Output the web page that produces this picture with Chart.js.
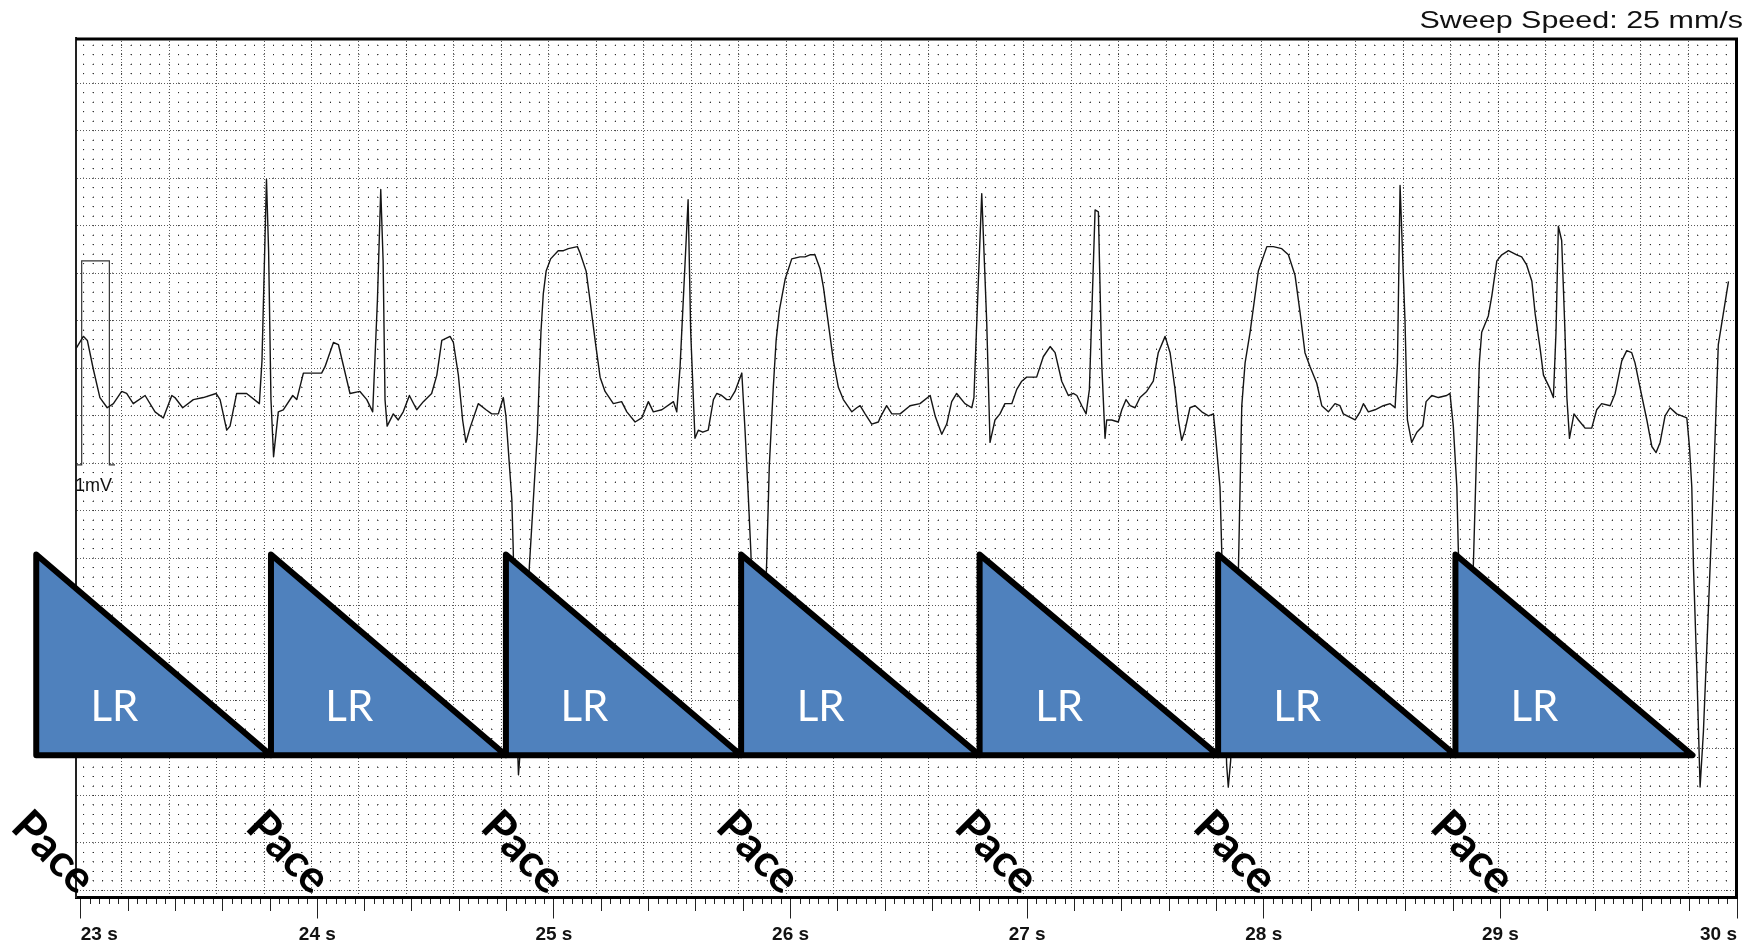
<!DOCTYPE html>
<html>
<head>
<meta charset="utf-8">
<script src="https://cdn.jsdelivr.net/npm/chart.js@4/dist/chart.umd.min.js"></script>
<style>
  html, body { margin: 0; padding: 0; background: #fff; }
</style>
</head>
<body>
<canvas id="ecg" width="1760" height="947"></canvas>
<script>
/* ---------------- DATA ---------------- */
// ECG trace: time in seconds, amplitude in mV
const ecgTime = [
  22.980, 23.011, 23.028, 23.053, 23.081, 23.112, 23.138, 23.173, 23.194, 23.222,
  23.272, 23.314, 23.349, 23.385, 23.398, 23.431, 23.476, 23.518, 23.572, 23.589,
  23.617, 23.631, 23.659, 23.701, 23.755, 23.766, 23.785, 23.794, 23.804, 23.815,
  23.835, 23.856, 23.896, 23.913, 23.941, 23.962, 24.018, 24.032, 24.068, 24.089,
  24.138, 24.180, 24.209, 24.234, 24.254, 24.268, 24.278, 24.286, 24.295, 24.321,
  24.342, 24.363, 24.389, 24.420, 24.448, 24.483, 24.505, 24.526, 24.561, 24.575,
  24.596, 24.614, 24.628, 24.645, 24.680, 24.713, 24.737, 24.765, 24.786, 24.797,
  24.822, 24.828, 24.840, 24.850, 24.861, 24.896, 24.913, 24.930, 24.945, 24.955,
  24.967, 24.986, 25.018, 25.040, 25.061, 25.099, 25.110, 25.136, 25.152, 25.174,
  25.195, 25.216, 25.251, 25.286, 25.308, 25.343, 25.371, 25.399, 25.420, 25.456,
  25.505, 25.519, 25.533, 25.567, 25.578, 25.596, 25.610, 25.629, 25.652, 25.674,
  25.688, 25.709, 25.730, 25.744, 25.765, 25.794, 25.808, 25.822, 25.832, 25.846,
  25.858, 25.879, 25.899, 25.910, 25.927, 25.939, 25.953, 25.977, 26.005, 26.040,
  26.061, 26.082, 26.103, 26.125, 26.139, 26.160, 26.181, 26.202, 26.223, 26.259,
  26.280, 26.294, 26.315, 26.343, 26.371, 26.378, 26.406, 26.428, 26.463, 26.505,
  26.547, 26.590, 26.611, 26.639, 26.660, 26.681, 26.702, 26.737, 26.766, 26.775,
  26.787, 26.808, 26.829, 26.843, 26.864, 26.885, 26.906, 26.935, 26.956, 26.977,
  26.998, 27.040, 27.068, 27.097, 27.118, 27.146, 27.174, 27.195, 27.210, 27.231,
  27.249, 27.263, 27.287, 27.301, 27.315, 27.329, 27.336, 27.357, 27.385, 27.400,
  27.418, 27.435, 27.456, 27.477, 27.505, 27.533, 27.554, 27.583, 27.604, 27.625,
  27.639, 27.653, 27.667, 27.688, 27.710, 27.738, 27.766, 27.787, 27.794, 27.815,
  27.822, 27.829, 27.843, 27.850, 27.860, 27.893, 27.907, 27.921, 27.942, 27.977,
  28.013, 28.040, 28.076, 28.104, 28.132, 28.153, 28.174, 28.196, 28.224, 28.245,
  28.273, 28.301, 28.322, 28.336, 28.386, 28.407, 28.421, 28.442, 28.470, 28.505,
  28.534, 28.555, 28.565, 28.576, 28.597, 28.607, 28.625, 28.647, 28.672, 28.686,
  28.710, 28.738, 28.773, 28.787, 28.801, 28.816, 28.822, 28.838, 28.855, 28.872,
  28.886, 28.900, 28.911, 28.921, 28.949, 28.964, 28.985, 29.006, 29.034, 29.069,
  29.090, 29.111, 29.133, 29.147, 29.168, 29.182, 29.207, 29.224, 29.235, 29.245,
  29.259, 29.273, 29.281, 29.292, 29.311, 29.330, 29.358, 29.386, 29.407, 29.428,
  29.464, 29.485, 29.513, 29.534, 29.555, 29.569, 29.590, 29.619, 29.640, 29.658,
  29.675, 29.696, 29.717, 29.745, 29.788, 29.799, 29.809, 29.816, 29.830, 29.844,
  29.858, 29.879, 29.900, 29.921, 29.942, 29.964
];
const ecgMv = [
  0.57, 0.63, 0.61, 0.47, 0.33, 0.28, 0.30, 0.36, 0.35, 0.30,
  0.34, 0.26, 0.23, 0.34, 0.33, 0.28, 0.32, 0.33, 0.35, 0.32,
  0.17, 0.19, 0.35, 0.35, 0.30, 0.51, 1.40, 1.05, 0.32, 0.04,
  0.26, 0.27, 0.34, 0.32, 0.45, 0.45, 0.45, 0.48, 0.60, 0.59,
  0.35, 0.36, 0.32, 0.26, 0.81, 1.35, 1.00, 0.32, 0.19, 0.25,
  0.22, 0.26, 0.34, 0.27, 0.31, 0.35, 0.44, 0.61, 0.63, 0.60,
  0.44, 0.22, 0.11, 0.18, 0.30, 0.27, 0.25, 0.25, 0.33, 0.24,
  -0.17, -0.42, -1.15, -1.52, -1.35, -0.50, -0.17, 0.16, 0.65, 0.84,
  0.95, 1.01, 1.05, 1.05, 1.06, 1.07, 1.04, 0.95, 0.81, 0.61,
  0.43, 0.36, 0.30, 0.31, 0.26, 0.21, 0.23, 0.31, 0.26, 0.27,
  0.31, 0.26, 0.48, 1.30, 0.65, 0.13, 0.17, 0.16, 0.17, 0.32,
  0.35, 0.34, 0.32, 0.32, 0.36, 0.45, 0.16, -0.17, -0.42, -0.91,
  -1.37, -1.15, -0.48, -0.01, 0.38, 0.61, 0.76, 0.91, 1.01, 1.02,
  1.02, 1.03, 1.03, 0.96, 0.87, 0.69, 0.51, 0.38, 0.32, 0.26,
  0.28, 0.29, 0.25, 0.20, 0.21, 0.23, 0.29, 0.25, 0.25, 0.29,
  0.30, 0.34, 0.24, 0.15, 0.20, 0.31, 0.35, 0.30, 0.28, 0.33,
  0.70, 1.33, 0.70, 0.11, 0.22, 0.25, 0.30, 0.30, 0.37, 0.41,
  0.43, 0.43, 0.53, 0.58, 0.55, 0.41, 0.34, 0.35, 0.34, 0.29,
  0.25, 0.37, 1.25, 1.24, 0.50, 0.13, 0.22, 0.22, 0.21, 0.27,
  0.32, 0.29, 0.28, 0.33, 0.36, 0.41, 0.55, 0.63, 0.55, 0.37,
  0.22, 0.12, 0.17, 0.28, 0.29, 0.26, 0.24, 0.25, 0.17, -0.11,
  -0.41, -0.71, -1.47, -1.58, -1.45, -0.50, 0.29, 0.50, 0.65, 0.95,
  1.07, 1.07, 1.06, 1.03, 0.93, 0.75, 0.55, 0.48, 0.40, 0.29,
  0.26, 0.30, 0.29, 0.25, 0.22, 0.26, 0.30, 0.26, 0.27, 0.29,
  0.30, 0.28, 0.50, 1.37, 0.70, 0.22, 0.11, 0.16, 0.19, 0.31,
  0.34, 0.33, 0.34, 0.35, 0.19, -0.11, -0.41, -0.91, -1.15, -0.86,
  -0.48, 0.09, 0.50, 0.65, 0.73, 0.83, 1.00, 1.03, 1.05, 1.03,
  1.02, 0.98, 0.90, 0.74, 0.57, 0.44, 0.38, 0.33, 0.65, 1.17,
  1.10, 0.65, 0.33, 0.13, 0.25, 0.22, 0.18, 0.18, 0.27, 0.30,
  0.29, 0.35, 0.51, 0.56, 0.55, 0.50, 0.38, 0.22, 0.09, 0.06,
  0.11, 0.24, 0.28, 0.25, 0.23, 0.09, -0.11, -0.50, -1.00, -1.58,
  -1.31, -0.71, -0.11, 0.59, 0.74, 0.90
];

// 1 mV calibration pulse
const calTime = [22.980, 23.004, 23.004, 23.121, 23.121, 23.145];
const calMv = [0, 0, 1, 1, 0, 0];

// pacing events and lower-rate (LR) timer triangles
const paceTimes = [22.812, 23.804, 24.797, 25.791, 26.799, 27.807, 28.810];
const lrEnd = 29.812;
const lrTop = -0.44;
const lrBottom = -1.424;

// axis labels (seconds)
const secondTicks = [23, 24, 25, 26, 27, 28, 29, 30];

const sweepText = "Sweep Speed: 25 mm/s";
const calText = "1mV";
const lrText = "LR";
const paceText = "Pace";

/* ---------------- SCALE SETUP ---------------- */
const X_MIN = 22.98, X_MAX = 30.0;
const Y_MIN = -2.119, Y_MAX = 2.093;

// ECG paper: 5 small boxes per big box
const GRID_T0 = 22.972, GRID_DT = 0.04013;
const GRID_V0 = -2.087, GRID_DV = 0.04657;

const lrTextMv = -1.19;
const paceLabelDt = 0.072;
const paceLabelMv = -1.90;
const calTextMv = -0.127;

function gridTicks(start, step, min, max) {
    const out = [];
    for (let k = 0; start + k * step <= max + 1e-9; k++) {
        const v = start + k * step;
        if (v >= min) out.push({ value: v, isMajor: k % 5 === 0 });
    }
    return out;
}

const timeTicks = [];
for (let v = secondTicks[0]; v <= secondTicks[secondTicks.length - 1] + 1e-9; v += 0.04) {
    timeTicks.push(Math.round(v * 100) / 100);
}

function tickKind(v) {
    const k = Math.round((v - secondTicks[0]) / 0.04);
    if (k % 25 === 0) return 2;
    if (k % 5 === 0) return 1;
    return 0;
}

function dotOffset(startPx, firstPx, spacing) {
    const d = ((firstPx - startPx - 0.5) % spacing + spacing) % spacing;
    return spacing - d;
}

function rowSpacing(ch) {
    const y = ch.scales.y;
    return Math.abs(y.getPixelForValue(GRID_V0 + GRID_DV) - y.getPixelForValue(GRID_V0));
}

function colSpacing(ch) {
    const xg = ch.scales.xg;
    return Math.abs(xg.getPixelForValue(GRID_T0 + GRID_DT) - xg.getPixelForValue(GRID_T0));
}

/* ---------------- OVERLAYS ---------------- */
const overlayPlugin = {
    id: "overlay",
    afterDatasetsDraw(chart) {
        const { ctx } = chart;
        const x = chart.scales.x, y = chart.scales.y;
        const yt = y.getPixelForValue(lrTop);
        const yb = y.getPixelForValue(lrBottom);

        ctx.save();
        ctx.lineWidth = 6;
        ctx.lineJoin = "round";
        ctx.strokeStyle = "#000";
        ctx.fillStyle = "#4F81BD";
        paceTimes.forEach((t, i) => {
            const next = i + 1 < paceTimes.length ? paceTimes[i + 1] : lrEnd;
            const x0 = x.getPixelForValue(t);
            const x1 = x.getPixelForValue(next);
            ctx.beginPath();
            ctx.moveTo(x0, yb);
            ctx.lineTo(x0, yt);
            ctx.lineTo(x1, yb);
            ctx.closePath();
            ctx.fill();
            ctx.stroke();
        });

        ctx.fillStyle = "#fff";
        ctx.font = "42px Lato";
        ctx.textAlign = "center";
        ctx.textBaseline = "middle";
        paceTimes.forEach((t, i) => {
            const next = i + 1 < paceTimes.length ? paceTimes[i + 1] : lrEnd;
            ctx.fillText(lrText, x.getPixelForValue(t + (next - t) / 3), y.getPixelForValue(lrTextMv));
        });
        ctx.restore();
    },
    afterDraw(chart) {
        const { ctx, chartArea: a } = chart;
        const x = chart.scales.x, y = chart.scales.y;
        ctx.save();

        // top and right edges of the strip
        ctx.strokeStyle = "#000";
        ctx.lineWidth = 3;
        ctx.beginPath();
        ctx.moveTo(a.left, a.top + 1);
        ctx.lineTo(a.right - 0.5, a.top + 1);
        ctx.lineTo(a.right - 0.5, a.bottom);
        ctx.stroke();

        // Pace markers
        ctx.fillStyle = "#000";
        ctx.font = "bold 45px Lato";
        ctx.textAlign = "center";
        ctx.textBaseline = "middle";
        paceTimes.forEach(t => {
            ctx.save();
            ctx.translate(x.getPixelForValue(t + paceLabelDt), y.getPixelForValue(paceLabelMv));
            ctx.rotate(Math.PI / 4);
            ctx.fillText(paceText, 0, 0);
            ctx.restore();
        });

        // calibration label
        ctx.fillStyle = "#111";
        ctx.font = '18px "Liberation Sans"';
        ctx.textAlign = "left";
        ctx.textBaseline = "alphabetic";
        ctx.fillText(calText, x.getPixelForValue(calTime[0]) - 1, y.getPixelForValue(calTextMv));

        // sweep speed
        ctx.font = '24px "Liberation Sans"';
        ctx.textAlign = "right";
        ctx.translate(a.right + 6, a.top - 10);
        ctx.scale(1.27, 1);
        ctx.fillText(sweepText, 0, 0);
        ctx.restore();
    }
};

/* ---------------- CHART ---------------- */
new Chart(document.getElementById("ecg"), {
    type: "line",
    data: {
        datasets: [
            {
                label: "Calibration",
                data: calTime.map((t, i) => ({ x: t, y: calMv[i] })),
                xAxisID: "x",
                yAxisID: "y",
                borderColor: "#333",
                borderWidth: 1.2,
                pointRadius: 0,
                tension: 0,
                order: 2
            },
            {
                label: "ECG",
                data: ecgTime.map((t, i) => ({ x: t, y: ecgMv[i] })),
                xAxisID: "x",
                yAxisID: "y",
                borderColor: "#141414",
                borderWidth: 1.4,
                borderJoinStyle: "round",
                pointRadius: 0,
                tension: 0,
                order: 1
            }
        ]
    },
    options: {
        responsive: false,
        animation: false,
        devicePixelRatio: 1,
        events: [],
        layout: { padding: { left: 76, right: 23, top: 38, bottom: 0 } },
        plugins: {
            legend: { display: false },
            tooltip: { enabled: false }
        },
        scales: {
            xg: {
                type: "linear",
                position: "bottom",
                min: X_MIN,
                max: X_MAX,
                afterBuildTicks: axis => { axis.ticks = gridTicks(GRID_T0, GRID_DT, X_MIN, X_MAX); },
                ticks: { display: false },
                border: {
                    display: false,
                    dash: c => !c.tick ? [] : c.tick.isMajor ? [1, 2] : [1, rowSpacing(c.chart) - 1],
                    dashOffset: c => {
                        if (!c.tick || c.tick.isMajor) return 0;
                        const ch = c.chart;
                        return dotOffset(ch.chartArea.top, ch.scales.y.getPixelForValue(GRID_V0), rowSpacing(ch));
                    }
                },
                grid: {
                    drawTicks: false,
                    lineWidth: 1,
                    color: c => (c.tick && c.tick.isMajor) ? "#5a5a5a" : "#2a2a2a"
                }
            },
            x: {
                type: "linear",
                position: "bottom",
                min: X_MIN,
                max: X_MAX,
                afterBuildTicks: axis => { axis.ticks = timeTicks.map(v => ({ value: v })); },
                afterFit: axis => { axis.height = 50; },
                ticks: {
                    autoSkip: false,
                    maxRotation: 0,
                    minRotation: 0,
                    align: "inner",
                    padding: 4,
                    color: "#111",
                    font: { family: "Liberation Sans", weight: "bold", size: 19 },
                    callback: v => {
                        const r = Math.round(v);
                        return (Math.abs(v - r) < 1e-6 && secondTicks.includes(r)) ? r + " s" : "";
                    }
                },
                border: { display: true, color: "#000", width: 3 },
                grid: {
                    drawOnChartArea: false,
                    drawTicks: true,
                    tickLength: 22,
                    tickWidth: 1,
                    tickColor: "#222",
                    tickBorderDash: c => {
                        const kind = c.tick ? tickKind(c.tick.value) : 0;
                        return [kind === 2 ? 19.5 : kind === 1 ? 12 : 5, 100];
                    }
                }
            },
            y: {
                type: "linear",
                position: "left",
                min: Y_MIN,
                max: Y_MAX,
                afterBuildTicks: axis => { axis.ticks = gridTicks(GRID_V0, GRID_DV, Y_MIN, Y_MAX); },
                ticks: { display: false },
                border: {
                    display: true,
                    color: "#222",
                    width: 2,
                    dash: c => !c.tick ? [] : c.tick.isMajor ? [1, 2] : [1, colSpacing(c.chart) - 1],
                    dashOffset: c => {
                        if (!c.tick || c.tick.isMajor) return 0;
                        const ch = c.chart;
                        return dotOffset(ch.chartArea.left + 1, ch.scales.xg.getPixelForValue(GRID_T0), colSpacing(ch));
                    }
                },
                grid: {
                    drawTicks: false,
                    lineWidth: 1,
                    color: c => (c.tick && c.tick.isMajor) ? "#5a5a5a" : "#2a2a2a"
                }
            }
        }
    },
    plugins: [overlayPlugin]
});
</script>
</body>
</html>
